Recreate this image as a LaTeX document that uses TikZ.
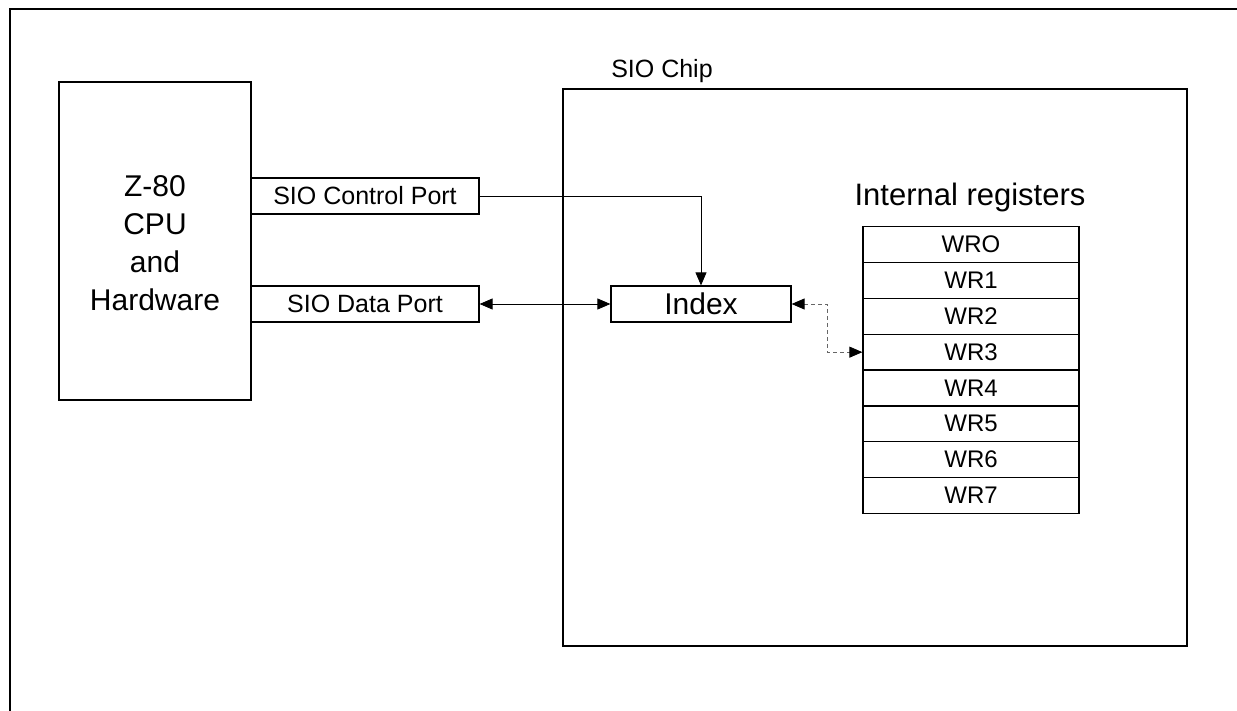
\documentclass[tikz,border=0pt]{standalone}
\usepackage{fontspec}
\setmainfont{Liberation Sans}
\usetikzlibrary{arrows.meta}
\begin{document}
\begin{tikzpicture}[x=1pt,y=-1pt,
  bigbox/.style={draw, line width=1.6pt, rectangle, inner sep=0pt},
  port/.style={draw, line width=1.2pt, rectangle, inner sep=0pt, minimum width=228pt, minimum height=36pt, font=\fontsize{25}{29}\selectfont},
  reg/.style={draw, line width=1.2pt, rectangle, inner sep=0pt, minimum width=216pt, minimum height=35.85pt, font=\fontsize{24}{29}\selectfont},
  lbl/.style={inner sep=0pt, font=\fontsize{25}{30}\selectfont},
  conn/.style={line width=0.8pt, -{Triangle[length=13pt,width=11pt]}},
  biconn/.style={line width=0.8pt, {Triangle[length=13pt,width=11pt]}-{Triangle[length=13pt,width=11pt]}},
  dashconn/.style={line width=0.9pt, draw=black!60, dash pattern=on 4pt off 3pt, {Triangle[length=13pt,width=11pt,black]}-{Triangle[length=13pt,width=11pt,black]}}
]
\useasboundingbox (0,0) rectangle (1237,711);
% outer frame (only left and top edges visible)
\draw[line width=1.8pt] (10,711) -- (10,9) -- (1237,9);

% CPU
\node[bigbox, minimum width=192pt, minimum height=318pt] (cpu) at (155,241) {};
\node[inner sep=0pt, align=center, font=\fontsize{30}{38}\selectfont] (cputext) at (155,242.7) {Z-80\\CPU\\and\\Hardware};

% ports
\node[port] (ctrl) at (365,196) {SIO Control Port\hspace{10pt}};
\node[port] (data) at (365,304) {SIO Data Port\hspace{10pt}};

% SIO chip
\node[bigbox, minimum width=624pt, minimum height=557pt] (chip) at (875,367.5) {};
\node[lbl, anchor=base] (chiplbl) at (662,78) {SIO Chip};

% Index
\node[draw, line width=1.2pt, rectangle, inner sep=0pt, minimum width=180pt, minimum height=36pt, font=\fontsize{30}{36}\selectfont] (index) at (701,304) {Index};

% registers
\node[inner sep=0pt, anchor=base, font=\fontsize{31}{36}\selectfont] (reglbl) at (970,206) {Internal registers};
\node[reg] (r0) at (971,244.6) {WRO};
\node[reg] (r1) at (971,280.45) {WR1};
\node[reg] (r2) at (971,316.3) {WR2};
\node[reg] (r3) at (971,352.15) {WR3};
\node[reg] (r4) at (971,388.0) {WR4};
\node[reg] (r5) at (971,423.85) {WR5};
\node[reg] (r6) at (971,459.7) {WR6};
\node[reg] (r7) at (971,495.55) {WR7};

% connectors
\draw[conn] (ctrl.east) -| (index.north);
\draw[biconn] (data.east) -- (index.west);
\draw[dashconn] (index.east) -- ++(36,0) |- (r3.west);
\end{tikzpicture}
\end{document}
